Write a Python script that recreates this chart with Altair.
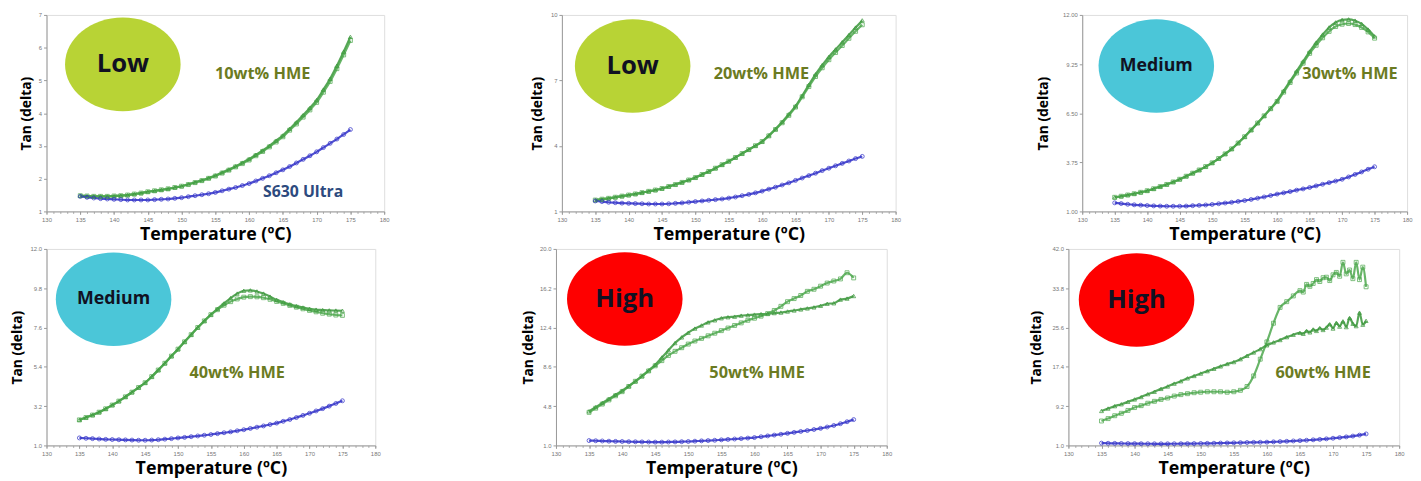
import altair as alt
import pandas as pd

# ---------------- data ----------------
T = list(range(135, 176))  # temperature grid (degC), 1 degree steps
T6 = list(range(135, 166)) + [165.5, 166, 166.5, 167, 167.5, 168, 168.5, 169, 169.5, 170,
                              170.5, 171, 171.5, 172, 172.5, 173, 173.5, 174, 174.5, 175]

p1_green_a = [1.48, 1.47, 1.46, 1.46, 1.46, 1.47, 1.48, 1.50, 1.53, 1.56, 1.60, 1.63, 1.66, 1.69, 1.73,
              1.77, 1.83, 1.89, 1.95, 2.02, 2.10, 2.19, 2.28, 2.38, 2.49, 2.60, 2.73, 2.86, 3.00, 3.16,
              3.32, 3.52, 3.72, 3.94, 4.16, 4.40, 4.72, 5.05, 5.45, 5.88, 6.33]
p1_green_b = [1.48, 1.47, 1.46, 1.46, 1.46, 1.47, 1.48, 1.50, 1.53, 1.56, 1.60, 1.63, 1.66, 1.69, 1.73,
              1.77, 1.82, 1.88, 1.94, 2.01, 2.08, 2.17, 2.26, 2.36, 2.46, 2.57, 2.70, 2.83, 2.97, 3.12,
              3.28, 3.48, 3.67, 3.88, 4.10, 4.33, 4.64, 4.97, 5.36, 5.78, 6.22]
p1_blue = [1.46, 1.43, 1.41, 1.39, 1.38, 1.37, 1.36, 1.35, 1.35, 1.35, 1.35, 1.36, 1.37, 1.38, 1.40,
           1.42, 1.45, 1.48, 1.51, 1.54, 1.58, 1.63, 1.68, 1.73, 1.79, 1.85, 1.93, 2.01, 2.09, 2.18,
           2.27, 2.37, 2.48, 2.59, 2.70, 2.82, 2.95, 3.08, 3.21, 3.35, 3.50]

p2_green_a = [1.52, 1.56, 1.60, 1.65, 1.70, 1.75, 1.80, 1.86, 1.92, 1.98, 2.05, 2.14, 2.23, 2.33, 2.44,
              2.55, 2.69, 2.83, 2.98, 3.14, 3.30, 3.47, 3.65, 3.83, 4.01, 4.20, 4.48, 4.78, 5.10, 5.45,
              5.82, 6.30, 6.80, 7.28, 7.70, 8.08, 8.42, 8.75, 9.08, 9.42, 9.75]
p2_green_b = [1.52, 1.56, 1.60, 1.65, 1.70, 1.75, 1.80, 1.86, 1.92, 1.98, 2.05, 2.14, 2.23, 2.33, 2.44,
              2.55, 2.69, 2.83, 2.98, 3.14, 3.30, 3.47, 3.65, 3.83, 4.01, 4.20, 4.46, 4.75, 5.06, 5.40,
              5.78, 6.25, 6.72, 7.18, 7.58, 7.95, 8.28, 8.60, 8.93, 9.25, 9.55]
p2_blue = [1.48, 1.45, 1.42, 1.40, 1.38, 1.37, 1.36, 1.35, 1.34, 1.34, 1.34, 1.35, 1.37, 1.39, 1.42,
           1.45, 1.48, 1.51, 1.54, 1.57, 1.61, 1.66, 1.72, 1.78, 1.85, 1.93, 2.02, 2.11, 2.21, 2.31,
           2.42, 2.53, 2.64, 2.75, 2.87, 2.98, 3.09, 3.20, 3.31, 3.42, 3.52]

p3_green_a = [1.79, 1.85, 1.92, 1.99, 2.07, 2.16, 2.27, 2.39, 2.51, 2.65, 2.80, 2.97, 3.14, 3.32, 3.51,
              3.72, 3.96, 4.22, 4.50, 4.83, 5.18, 5.56, 5.95, 6.35, 6.77, 7.20, 7.75, 8.30, 8.85, 9.40,
              9.95, 10.45, 10.90, 11.30, 11.58, 11.72, 11.75, 11.68, 11.50, 11.18, 10.80]
p3_green_b = [1.79, 1.85, 1.92, 1.99, 2.07, 2.16, 2.27, 2.39, 2.51, 2.65, 2.80, 2.97, 3.14, 3.32, 3.51,
              3.72, 3.96, 4.22, 4.50, 4.83, 5.18, 5.56, 5.95, 6.35, 6.75, 7.15, 7.68, 8.22, 8.75, 9.30,
              9.85, 10.30, 10.72, 11.08, 11.35, 11.48, 11.52, 11.46, 11.30, 11.05, 10.70]
p3_blue = [1.48, 1.44, 1.40, 1.37, 1.35, 1.33, 1.31, 1.30, 1.29, 1.29, 1.29, 1.30, 1.32, 1.34, 1.36,
           1.39, 1.43, 1.47, 1.51, 1.56, 1.61, 1.67, 1.74, 1.81, 1.89, 1.97, 2.04, 2.11, 2.19, 2.26,
           2.34, 2.43, 2.52, 2.61, 2.70, 2.80, 2.93, 3.07, 3.21, 3.36, 3.50]

p4_green_a = [2.43, 2.56, 2.70, 2.86, 3.05, 3.26, 3.48, 3.72, 3.98, 4.24, 4.51, 4.85, 5.22, 5.60, 6.00,
              6.39, 6.80, 7.20, 7.60, 7.97, 8.32, 8.65, 8.95, 9.25, 9.50, 9.66, 9.68, 9.62, 9.50, 9.33,
              9.15, 9.02, 8.90, 8.80, 8.72, 8.65, 8.60, 8.58, 8.56, 8.55, 8.54]
p4_green_b = [2.43, 2.56, 2.70, 2.86, 3.05, 3.26, 3.48, 3.72, 3.98, 4.24, 4.51, 4.85, 5.22, 5.60, 6.00,
              6.39, 6.80, 7.20, 7.60, 7.97, 8.32, 8.60, 8.85, 9.05, 9.20, 9.30, 9.33, 9.32, 9.27, 9.18,
              9.06, 8.95, 8.84, 8.74, 8.65, 8.56, 8.48, 8.40, 8.35, 8.30, 8.28]
p4_blue = [1.42, 1.40, 1.38, 1.36, 1.34, 1.33, 1.32, 1.31, 1.30, 1.29, 1.29, 1.30, 1.32, 1.35, 1.38,
           1.42, 1.45, 1.49, 1.53, 1.57, 1.61, 1.66, 1.71, 1.76, 1.82, 1.88, 1.95, 2.02, 2.09, 2.17,
           2.25, 2.35, 2.45, 2.56, 2.68, 2.80, 2.93, 3.06, 3.20, 3.35, 3.50]

p5_green_a = [4.3, 4.7, 5.1, 5.5, 5.9, 6.3, 6.75, 7.2, 7.7, 8.25, 8.8, 9.5, 10.2, 10.9, 11.45,
              11.9, 12.3, 12.6, 12.9, 13.1, 13.3, 13.4, 13.45, 13.55, 13.6, 13.65, 13.7, 13.72, 13.8, 13.85,
              13.95, 14.05, 14.15, 14.25, 14.35, 14.5, 14.7, 14.75, 15.1, 15.2, 15.45]
p5_green_b = [4.2, 4.6, 5.0, 5.4, 5.8, 6.2, 6.7, 7.2, 7.7, 8.2, 8.7, 9.2, 9.7, 10.1, 10.45,
              10.8, 11.1, 11.35, 11.6, 11.85, 12.1, 12.35, 12.6, 12.85, 13.1, 13.3, 13.5, 13.75, 14.05, 14.45,
              14.9, 15.2, 15.5, 15.9, 16.1, 16.4, 16.7, 16.9, 17.1, 17.7, 17.2]
p5_blue = [1.47, 1.45, 1.43, 1.41, 1.39, 1.38, 1.36, 1.35, 1.34, 1.33, 1.32, 1.32, 1.33, 1.34, 1.36,
           1.38, 1.41, 1.44, 1.47, 1.50, 1.54, 1.58, 1.62, 1.66, 1.71, 1.76, 1.84, 1.92, 2.00, 2.08,
           2.17, 2.26, 2.35, 2.44, 2.54, 2.65, 2.78, 2.93, 3.10, 3.29, 3.50]

p6_green_a = [8.2, 8.7, 9.2, 9.6, 10.1, 10.6, 11.1, 11.7, 12.2, 12.8, 13.3, 13.9, 14.4, 15.0, 15.5,
              16.0, 16.5, 17.0, 17.5, 18.0, 18.4, 19.0, 19.7, 20.4, 21.1, 21.9, 22.5, 23.0, 23.6, 24.1,
              24.5, 24.3, 24.9, 24.6, 25.2, 24.9, 25.5, 25.1, 25.6, 26.3, 25.4, 26.6, 25.8, 26.9, 25.7,
              27.6, 26.4, 25.9, 28.7, 26.2, 27.0]
p6_green_b = [6.1, 6.6, 7.2, 7.7, 8.3, 8.9, 9.3, 9.8, 10.2, 10.6, 10.9, 11.3, 11.6, 11.8, 12.0,
              12.1, 12.2, 12.2, 12.2, 12.1, 12.2, 12.5, 13.3, 15.5, 19.0, 22.6, 26.5, 29.8, 31.0, 32.2,
              33.3, 33.0, 34.6, 34.2, 34.8, 35.6, 35.2, 36.0, 36.1, 35.4, 36.6, 37.1, 36.3, 39.2, 36.8,
              37.6, 35.8, 39.2, 35.6, 38.2, 34.1]
p6_blue = [1.48, 1.45, 1.43, 1.41, 1.39, 1.37, 1.36, 1.35, 1.34, 1.34, 1.34, 1.35, 1.36, 1.37, 1.39,
           1.41, 1.43, 1.46, 1.49, 1.52, 1.55, 1.58, 1.61, 1.64, 1.66, 1.68, 1.74, 1.80, 1.86, 1.93,
           2.00, 2.08, 2.17, 2.26, 2.37, 2.50, 2.63, 2.78, 2.95, 3.15, 3.40]

# axis tick labels
x_ticks = [130, 135, 140, 145, 150, 155, 160, 165, 170, 175, 180]
x_minor = list(range(130, 181))
y_ticks = [
    [1, 2, 3, 4, 5, 6, 7],
    [1, 4, 7, 10],
    [1.00, 3.75, 6.50, 9.25, 12.00],
    [1.0, 3.2, 5.4, 7.6, 9.8, 12.0],
    [1.0, 4.8, 8.6, 12.4, 16.2, 20.0],
    [1.0, 9.2, 17.4, 25.6, 33.8, 42.0],
]
y_formats = ["d", "d", ".2f", ".1f", ".1f", ".1f"]

# annotations (data coordinates)
bubble_text = ["Low", "Low", "Medium", "Medium", "High", "High"]
bubble_color = ["#b8d335", "#b8d335", "#4bc6d8", "#4bc6d8", "#fe0000", "#fe0000"]
bubble_x = [141.3, 140.6, 141.4, 140.2, 140.4, 140.3]
bubble_y = [5.49, 7.66, 9.14, 9.18, 15.16, 31.34]
hme_text = ["10wt% HME", "20wt% HME", "30wt% HME", "40wt% HME", "50wt% HME", "60wt% HME"]
hme_x = [162.0, 159.9, 171.2, 159.0, 160.4, 168.5]
hme_y = [5.19, 7.30, 8.70, 5.03, 8.03, 16.17]
ultra_text = "S630 Ultra"
ultra_x, ultra_y = 168.0, 1.60

# ---------------- layout ----------------
widths = [342, 338, 329, 333, 335, 335]
H = 199
y_extent = [9, 14, 28, 18, 17, 21]
row1_spacing = [141, 136]
row2_spacing = [141, 138]

series_info = [
    (T, p1_green_a, p1_green_b, T, p1_blue),
    (T, p2_green_a, p2_green_b, T, p2_blue),
    (T, p3_green_a, p3_green_b, T, p3_blue),
    (T, p4_green_a, p4_green_b, T, p4_blue),
    (T, p5_green_a, p5_green_b, T, p5_blue),
    (T6, p6_green_a, p6_green_b, T, p6_blue),
]

ELLIPSE = "M -1 0 A 1 0.81 0 1 1 1 0 A 1 0.81 0 1 1 -1 0 Z"
BOLD_FONT = "Open Sans"


def panel(i):
    tg, ga, gb, tb, bl = series_info[i]
    rows = []
    for t, v in zip(tg, ga):
        rows.append({"temp": t, "val": v, "series": "HME a"})
    for t, v in zip(tg, gb):
        rows.append({"temp": t, "val": v, "series": "HME b"})
    for t, v in zip(tb, bl):
        rows.append({"temp": t, "val": v, "series": "S630"})
    df = pd.DataFrame(rows)

    yt = y_ticks[i]
    xs = alt.Scale(domain=[130, 180], nice=False, zero=False)
    ys = alt.Scale(domain=[yt[0], yt[-1]], nice=False, zero=False)
    xaxis = alt.Axis(values=x_ticks, tickCount=200, format="d", title="Temperature (ºC)",
                     grid=False, orient="bottom", labelOverlap=False, labelFlush=False,
                     labelFontSize=6, labelColor="#777", labelFont="Liberation Sans",
                     tickSize=3, tickColor="#999", domainColor="#999", labelPadding=2,
                     titleFont=BOLD_FONT, titleFontSize=18, titleFontWeight="bold",
                     titleColor="#000", titlePadding=2, minExtent=12, maxExtent=12)
    yaxis = alt.Axis(values=yt, tickCount=200, format=y_formats[i], title="Tan (delta)",
                     grid=False, labelOverlap=False, labelFlush=False,
                     labelFontSize=6, labelColor="#777", labelFont="Liberation Sans",
                     tickSize=3, tickColor="#999", domainColor="#999",
                     titleFont=BOLD_FONT, titleFontSize=14, titleFontWeight="bold",
                     titleColor="#000", titlePadding=4,
                     minExtent=y_extent[i], maxExtent=y_extent[i])
    color = alt.Color("series:N", legend=None,
                      scale=alt.Scale(domain=["HME a", "HME b", "S630"],
                                      range=["#3a963a", "#4ea84e", "#3030c8"]))
    shape = alt.Shape("series:N", legend=None,
                      scale=alt.Scale(domain=["HME a", "HME b", "S630"],
                                      range=["triangle-up", "square", "circle"]))

    minor = alt.Chart(df).mark_point(opacity=0).encode(
        x=alt.X("temp:Q", scale=xs, axis=alt.Axis(values=x_minor, tickCount=200, labels=False,
                                                  domain=False, tickSize=2, tickColor="#aaa",
                                                  title="", grid=False, orient="bottom",
                                                  minExtent=0, maxExtent=0)),
        y=alt.Y("val:Q", scale=ys),
    )
    lines = alt.Chart(df).mark_line(strokeWidth=2.2, opacity=0.85, interpolate="monotone").encode(
        x=alt.X("temp:Q", scale=xs, axis=xaxis),
        y=alt.Y("val:Q", scale=ys, axis=yaxis),
        color=color,
        detail="series:N",
    )
    pts = alt.Chart(df).mark_point(size=16, filled=False, strokeWidth=0.8, opacity=0.9).encode(
        x=alt.X("temp:Q", scale=xs),
        y=alt.Y("val:Q", scale=ys),
        color=color,
        shape=shape,
    )
    bdf = pd.DataFrame({"temp": [bubble_x[i]], "val": [bubble_y[i]], "t": [bubble_text[i]]})
    bubble = alt.Chart(bdf).mark_point(shape=ELLIPSE, size=117 * 117, filled=True, opacity=1,
                                       color=bubble_color[i], strokeWidth=0).encode(
        x=alt.X("temp:Q", scale=xs), y=alt.Y("val:Q", scale=ys))
    bsize = 18 if bubble_text[i] == "Medium" else 26
    btxt = alt.Chart(bdf).mark_text(font=BOLD_FONT, fontWeight="bold", fontSize=bsize,
                                    color="#111122", baseline="middle", align="center").encode(
        x=alt.X("temp:Q", scale=xs), y=alt.Y("val:Q", scale=ys), text="t:N")
    hdf = pd.DataFrame({"temp": [hme_x[i]], "val": [hme_y[i]], "t": [hme_text[i]]})
    htxt = alt.Chart(hdf).mark_text(font=BOLD_FONT, fontWeight="bold", fontSize=16.5,
                                    color="#6b7b22", baseline="middle", align="center").encode(
        x=alt.X("temp:Q", scale=xs), y=alt.Y("val:Q", scale=ys), text="t:N")
    inner = [lines, pts, bubble, btxt, htxt]
    if i == 0:
        udf = pd.DataFrame({"temp": [ultra_x], "val": [ultra_y], "t": [ultra_text]})
        inner.append(alt.Chart(udf).mark_text(font=BOLD_FONT, fontWeight="bold", fontSize=16,
                                              color="#2d4a7e", baseline="middle",
                                              align="center").encode(
            x=alt.X("temp:Q", scale=xs), y=alt.Y("val:Q", scale=ys), text="t:N"))
    main = alt.layer(*inner)
    return alt.layer(minor, main).resolve_axis(x="independent").properties(width=widths[i], height=H)


def row(a, b, c, sp):
    left = alt.hconcat(a, b, spacing=sp[0])
    return alt.hconcat(left, c, spacing=sp[1])


r1 = row(panel(0), panel(1), panel(2), row1_spacing)
r2 = row(panel(3), panel(4), panel(5), row2_spacing)
chart = alt.concat(r1, r2, columns=1, spacing=1, align="none").properties(
    padding={"left": 2, "top": 0, "right": 0, "bottom": 0}
).configure_view(stroke="#c8c8c8", strokeWidth=1).configure(background="white")

chart.save("out.html", embed_options={"renderer": "svg", "actions": False})
